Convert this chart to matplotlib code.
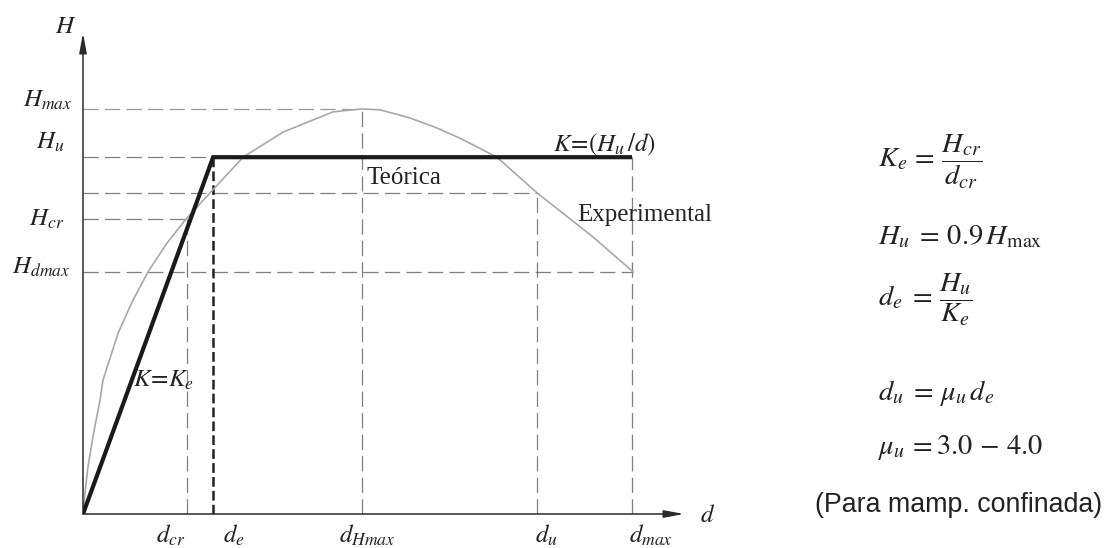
import matplotlib
matplotlib.use("Agg")
import matplotlib.pyplot as plt

plt.rcParams["mathtext.fontset"] = "stix"
plt.rcParams["font.family"] = ["Liberation Serif", "DejaVu Serif"]
plt.rcParams["lines.scale_dashes"] = False

# Characteristic displacements (mm)
d_cr, d_e, d_Hmax, d_u, d_max = 3.79, 4.74, 10.16, 16.54, 20.0
# Characteristic loads (kN)
H_max, H_u, H_du, H_cr, H_dmax = 100.0, 88.1, 79.3, 72.8, 59.8

# Experimental envelope (displacement, load)
exp_d = [0.0, 0.07, 0.18, 0.40, 0.62, 0.73, 1.28, 1.80, 2.37, 3.05, 3.75,
         4.63, 5.83, 7.29, 8.27, 9.11, 10.16, 10.82, 11.91, 12.90, 13.73,
         14.57, 15.08, 16.54, 18.58, 20.04]
exp_H = [0.0, 5.0, 11.6, 20.5, 28.1, 33.1, 44.7, 52.5, 59.8, 66.8, 72.8,
         79.3, 88.1, 94.3, 97.0, 99.3, 100.0, 99.8, 97.8, 95.3, 92.8,
         89.9, 88.1, 79.3, 68.4, 59.8]

# Idealised bilinear (theoretical) envelope
teo_d = [0.0, d_e, d_max]
teo_H = [0.0, H_u, H_u]

W, Hpx = 1109, 548
fig = plt.figure(figsize=(W / 100, Hpx / 100), dpi=100)
px_per_d, px_per_H = 27.45, 4.05
x0, y0 = 83, 34
xmax, ymax = 23.0, 120.0
ax = fig.add_axes([x0 / W, y0 / Hpx, xmax * px_per_d / W, ymax * px_per_H / Hpx])
ax.set_xlim(0, xmax)
ax.set_ylim(0, ymax)
ax.axis("off")

grey = "#7f7f7f"
dash = (0, (11, 4.5))
kw = dict(color=grey, lw=0.9, ls=dash, zorder=1)

# Reference levels and displacements
ax.plot([0, d_Hmax], [H_max, H_max], **{**kw, "color": "#9a9a9a"})
ax.plot([d_Hmax, d_Hmax], [0, H_max], **kw)
ax.plot([0, d_e], [H_u, H_u], **kw)
ax.plot([0, d_u], [H_du, H_du], **kw)
ax.plot([d_u, d_u], [0, H_du], **kw)
ax.plot([0, d_cr], [H_cr, H_cr], **kw)
ax.plot([d_cr, d_cr], [0, H_cr], **kw)
ax.plot([0, d_max], [H_dmax, H_dmax], **kw)
ax.plot([d_max, d_max], [0, H_u], **kw)
ax.plot([d_e, d_e], [0, H_u], color="#222222", lw=1.8, ls=(0, (7, 3)), zorder=2)

# Curves
ax.plot(exp_d, exp_H, color="#a8a8a8", lw=1.2, zorder=3,
        solid_joinstyle="round")
ax.plot(teo_d, teo_H, color="#1a1a1a", lw=3.0, solid_capstyle="butt",
        solid_joinstyle="miter", zorder=4)

# Axes with arrowheads
arrow = dict(arrowstyle="-|>,head_length=1.2,head_width=0.22", color="#2a2a2a",
             lw=1.1, shrinkA=0, shrinkB=0, mutation_scale=10)
ax.annotate("", xy=(21.9, 0), xytext=(0, 0), arrowprops=arrow, annotation_clip=False)
ax.annotate("", xy=(0, 118.8), xytext=(0, 0), arrowprops=arrow, annotation_clip=False)

tc = "#222222"
fs = 18

def lab(text, xy, off, size=fs, **k):
    ax.annotate(text, xy=xy, xytext=off, textcoords="offset pixels",
                ha="center", va="center", fontsize=size, color=tc,
                annotation_clip=False, **k)

# Axis titles
lab(r"$H$", (0, 118.8), (-17, 6))
lab(r"$d$", (21.9, 0), (23, -2))

# Load labels
lab(r"$H_{max}$", (0, H_max), (-35, 9))
lab(r"$H_u$", (0, H_u), (-33, 15))
lab(r"$H_{cr}$", (0, H_cr), (-36, 0))
lab(r"$H_{dmax}$", (0, H_dmax), (-42, 4))

# Displacement labels
lab(r"$d_{cr}$", (d_cr, 0), (-16, -21))
lab(r"$d_e$", (d_e, 0), (21, -21))
lab(r"$d_{Hmax}$", (d_Hmax, 0), (5, -21))
lab(r"$d_u$", (d_u, 0), (9, -21))
lab(r"$d_{max}$", (d_max, 0), (19, -21))

# Curve annotations
lab(r"$K\!=\!(H_u\,/d)$", (d_max, H_u), (-28, 12))
lab("Teórica", (d_Hmax, H_u), (42, -21))
lab("Experimental", (d_max, H_dmax), (13, 57))
lab(r"$K\!=\!K_e$", (0, 0), (80, 134))

# Definitions
def ftxt(x, y, s, **k):
    fig.text(x / W, 1 - y / Hpx, s, va="center", color=tc, **k)

fsz = 20.5
ftxt(878, 162, r"$K_e\,=\,\dfrac{H_{cr}}{d_{cr}}$", fontsize=fsz)
ftxt(878, 237, r"$H_u\;=\,0.9\,H_{\rm max}$", fontsize=fsz)
ftxt(878, 300, r"$d_e\;=\,\dfrac{H_u}{K_e}$", fontsize=fsz)
ftxt(878, 393, r"$d_u\;=\,\mu_u\,d_e$", fontsize=fsz)
ftxt(878, 448, r"$\mu_u\,=3.0\,-\,4.0$", fontsize=fsz)
ftxt(815, 505, "(Para mamp. confinada)", fontsize=19.3, family="Liberation Sans")

fig.savefig("out.png", dpi=100, facecolor="white")
